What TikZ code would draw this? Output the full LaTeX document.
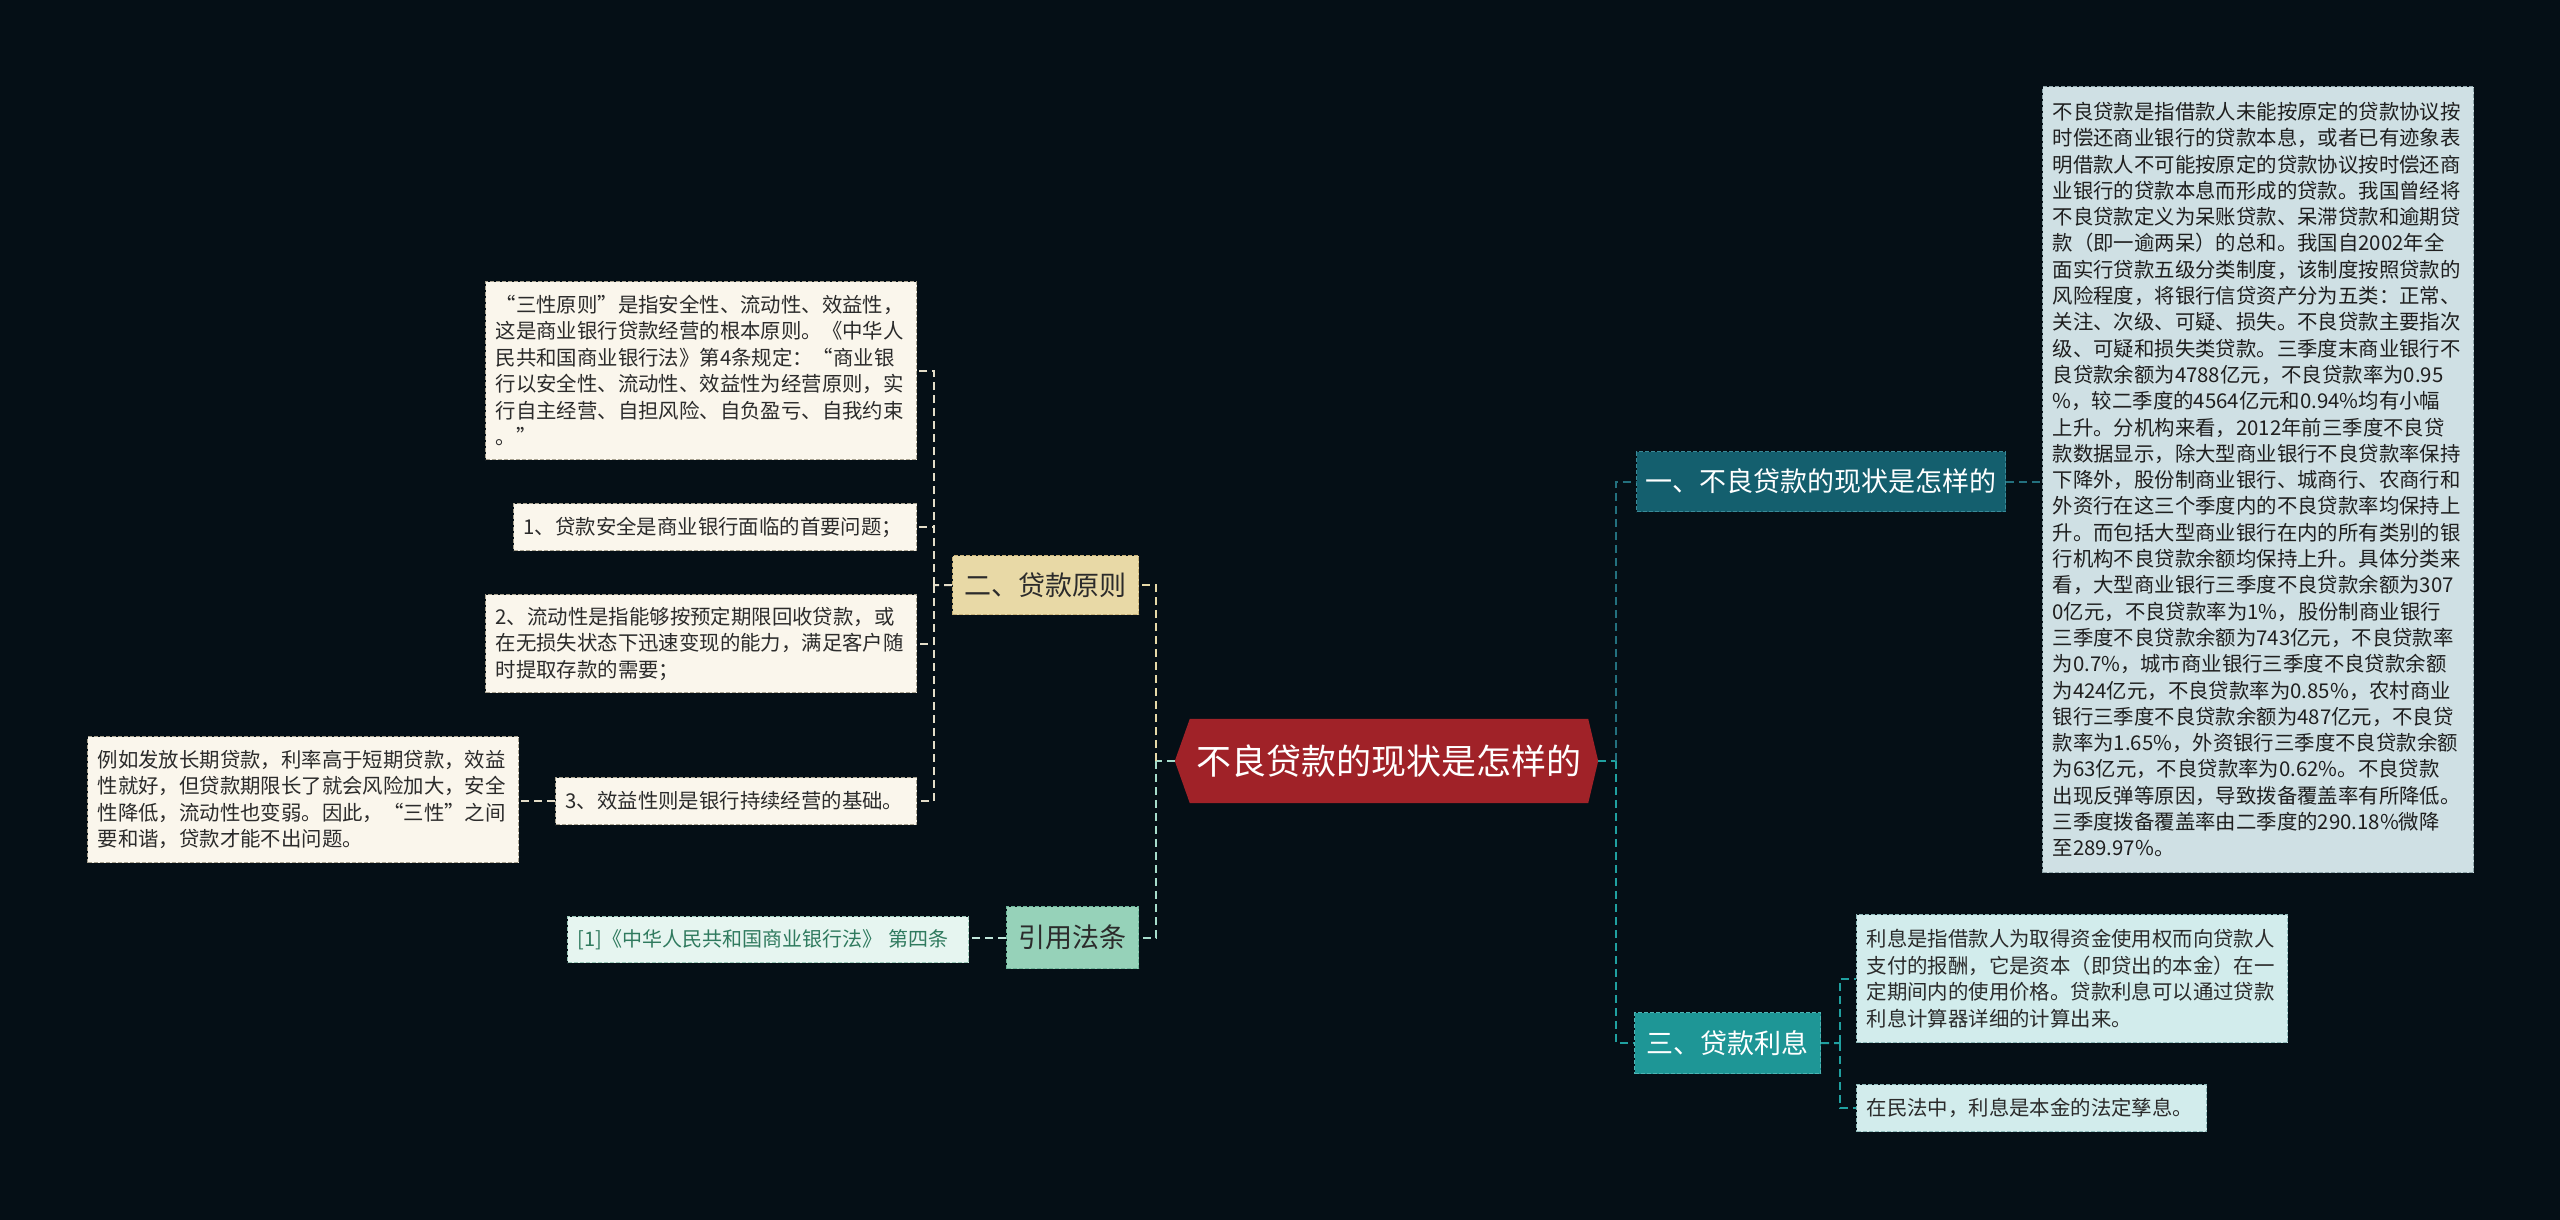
\documentclass[tikz,border=0pt]{standalone}
\usepackage{fontspec}
\setmainfont{Noto Sans CJK SC}
\pgfdeclarelayer{bg}
\pgfsetlayers{bg,main}
\definecolor{bgc}{HTML}{050F16}
\definecolor{rootc}{HTML}{A02228}
\definecolor{onec}{HTML}{145F6E}
\definecolor{oneborder}{HTML}{3A8A98}
\definecolor{threec}{HTML}{1E9696}
\definecolor{threeborder}{HTML}{4DB5B5}
\definecolor{twoc}{HTML}{E8D9A6}
\definecolor{twoborder}{HTML}{C8B27A}
\definecolor{refc}{HTML}{96D2B9}
\definecolor{refborder}{HTML}{6FB59A}
\definecolor{creamc}{HTML}{FAF6EC}
\definecolor{creamborder}{HTML}{A8A290}
\definecolor{bigc}{HTML}{CFE0E4}
\definecolor{bigborder}{HTML}{8FA6AB}
\definecolor{intc}{HTML}{D2ECEC}
\definecolor{intborder}{HTML}{8DB8B8}
\definecolor{refleafc}{HTML}{E6F5F0}
\definecolor{refleafborder}{HTML}{9CC8B8}
\definecolor{reftext}{HTML}{2F7A5E}
\definecolor{linebeige}{HTML}{E6D9A8}
\definecolor{linecream}{HTML}{E4DDC8}
\definecolor{linemint}{HTML}{A6DCCB}
\definecolor{lineone}{HTML}{23707E}
\definecolor{linethree}{HTML}{20A0A0}
\definecolor{darktext}{HTML}{2B2B2B}
\begin{document}
\begin{tikzpicture}[x=1pt,y=-1pt,
  conn/.style={line width=2pt, dash pattern=on 8pt off 5pt},
  topic/.style={anchor=north west, inner sep=0pt, align=center,
    font=\fontsize{27pt}{32pt}\selectfont, draw, line width=1.2pt,
    dash pattern=on 4pt off 2pt},
  leaf/.style={anchor=north west, inner xsep=10pt, inner ysep=0pt, align=left,
    font=\fontsize{20.4pt}{26.5pt}\selectfont, draw, line width=1.2pt,
    dash pattern=on 4pt off 2pt},
  cream/.style={leaf, fill=creamc, draw=creamborder, text=darktext},
  inter/.style={leaf, fill=intc, draw=intborder, text=darktext},
]
\useasboundingbox (0,0) rectangle (2560,1220);
\begin{pgfonlayer}{bg}
\fill[bgc] (0,0) rectangle (2560,1220);
\end{pgfonlayer}

% root
\node[inner sep=0pt, minimum width=398pt, minimum height=84pt, text=white,
  font=\fontsize{35pt}{42pt}\selectfont] (root) at (1389,761) {不良贷款的现状是怎样的};
\begin{pgfonlayer}{bg}
\fill[rootc] ([xshift=-15pt]root.west) -- (root.north west) -- (root.north east)
  -- ([xshift=10pt]root.east) -- (root.south east) -- (root.south west) -- cycle;
\end{pgfonlayer}

% main topics
\node[topic, fill=onec, draw=oneborder, text=white, minimum width=369pt, minimum height=60pt]
  (n1) at (1636,451) {一、不良贷款的现状是怎样的};
\node[topic, fill=twoc, draw=twoborder, text=darktext, minimum width=186pt, minimum height=59pt]
  (n2) at (952,555) {二、贷款原则};
\node[topic, fill=threec, draw=threeborder, text=white, minimum width=186pt, minimum height=61pt]
  (n3) at (1634,1012) {三、贷款利息};
\node[topic, fill=refc, draw=refborder, text=darktext, minimum width=132pt, minimum height=62pt]
  (n4) at (1006,906) {引用法条};

% big text box
\node[leaf, fill=bigc, draw=bigborder, text=black!88, text width=411pt, minimum height=786pt,
  font=\fontsize{20.4pt}{26.3pt}\selectfont] (bb) at (2042,86)
{不良贷款是指借款人未能按原定的贷款协议按\\
时偿还商业银行的贷款本息，或者已有迹象表\\
明借款人不可能按原定的贷款协议按时偿还商\\
业银行的贷款本息而形成的贷款。我国曾经将\\
不良贷款定义为呆账贷款、呆滞贷款和逾期贷\\
款（即一逾两呆）的总和。我国自2002年全\\
面实行贷款五级分类制度，该制度按照贷款的\\
风险程度，将银行信贷资产分为五类：正常、\\
关注、次级、可疑、损失。不良贷款主要指次\\
级、可疑和损失类贷款。三季度末商业银行不\\
良贷款余额为4788亿元，不良贷款率为0.95\\
\%，较二季度的4564亿元和0.94\%均有小幅\\
上升。分机构来看，2012年前三季度不良贷\\
款数据显示，除大型商业银行不良贷款率保持\\
下降外，股份制商业银行、城商行、农商行和\\
外资行在这三个季度内的不良贷款率均保持上\\
升。而包括大型商业银行在内的所有类别的银\\
行机构不良贷款余额均保持上升。具体分类来\\
看，大型商业银行三季度不良贷款余额为307\\
0亿元，不良贷款率为1\%，股份制商业银行\\
三季度不良贷款余额为743亿元，不良贷款率\\
为0.7\%，城市商业银行三季度不良贷款余额\\
为424亿元，不良贷款率为0.85\%，农村商业\\
银行三季度不良贷款余额为487亿元，不良贷\\
款率为1.65\%，外资银行三季度不良贷款余额\\
为63亿元，不良贷款率为0.62\%。不良贷款\\
出现反弹等原因，导致拨备覆盖率有所降低。\\
三季度拨备覆盖率由二季度的290.18\%微降\\
至289.97\%。};

% interest boxes
\node[inter, text width=411pt, minimum height=128pt] (ib1) at (1856,914)
{利息是指借款人为取得资金使用权而向贷款人\\
支付的报酬，它是资本（即贷出的本金）在一\\
定期间内的使用价格。贷款利息可以通过贷款\\
利息计算器详细的计算出来。};
\node[inter, text width=330pt, minimum height=47pt] (ib2) at (1856,1084)
{在民法中，利息是本金的法定孳息。};

% principle boxes
\node[cream, text width=411pt, minimum height=178pt] (lb1) at (485,281)
{“三性原则”是指安全性、流动性、效益性，\\
这是商业银行贷款经营的根本原则。《中华人\\
民共和国商业银行法》第4条规定：“商业银\\
行以安全性、流动性、效益性为经营原则，实\\
行自主经营、自担风险、自负盈亏、自我约束\\
。”};
\node[cream, text width=383pt, minimum height=47pt] (lb2) at (513,503)
{1、贷款安全是商业银行面临的首要问题；};
\node[cream, text width=411pt, minimum height=98pt] (lb3) at (485,594)
{2、流动性是指能够按预定期限回收贷款，或\\
在无损失状态下迅速变现的能力，满足客户随\\
时提取存款的需要；};
\node[cream, text width=341pt, minimum height=47pt] (lb4) at (555,777)
{3、效益性则是银行持续经营的基础。};
\node[cream, text width=411pt, minimum height=126pt] (lb5) at (87,736)
{例如发放长期贷款，利率高于短期贷款，效益\\
性就好，但贷款期限长了就会风险加大，安全\\
性降低，流动性也变弱。因此，“三性”之间\\
要和谐，贷款才能不出问题。};

% reference leaf
\node[leaf, fill=refleafc, draw=refleafborder, text=reftext, text width=381pt, minimum height=46pt,
  font=\fontsize{20pt}{26pt}\selectfont] (ref1) at (567,916)
{[1]《中华人民共和国商业银行法》 第四条};

% junctions
\coordinate (lj) at (1156,761);
\coordinate (rj) at (1616,761);
\coordinate (j2) at (934,585);
\coordinate (j3) at (1840,1043);

% left connectors
\draw[conn, linemint] ([xshift=-15pt]root.west) -- (lj);
\draw[conn, linebeige] (lj) |- (n2.east);
\draw[conn, linemint] (lj) |- (n4.east);
\draw[conn, linecream] (n2.west) -- (j2);
\draw[conn, linecream] (j2) |- (lb1.east);
\draw[conn, linecream] (j2) |- (lb2.east);
\draw[conn, linecream] (j2) |- (lb3.east);
\draw[conn, linecream] (j2) |- (lb4.east);
\draw[conn, linecream] (lb4.west) -- (lb4.west -| lb5.east);
\draw[conn, linemint!70!white] (n4.west) -- (n4.west -| ref1.east);

% right connectors
\draw[conn, linethree] ([xshift=10pt]root.east) -- (rj);
\draw[conn, lineone] (rj) |- (n1.west);
\draw[conn, linethree] (rj) |- (n3.west);
\draw[conn, lineone] (n1.east) -- (n1.east -| bb.west);
\draw[conn, linethree] (n3.east) -- (j3);
\draw[conn, linethree] (j3) |- (ib1.west);
\draw[conn, linethree] (j3) |- (ib2.west);
\end{tikzpicture}
\end{document}
